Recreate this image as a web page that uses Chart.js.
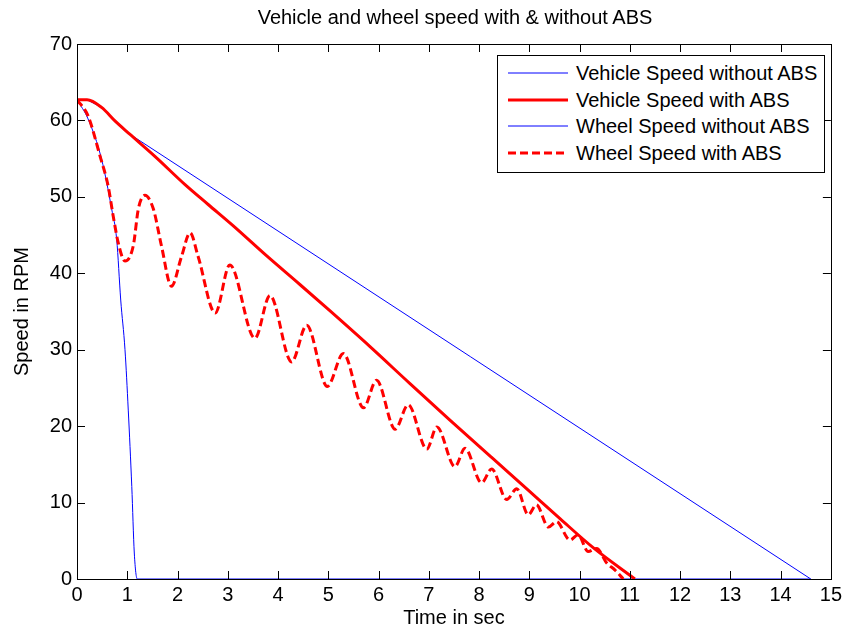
<!DOCTYPE html>
<html lang="en">
<head>
<meta charset="UTF-8">
<title>Vehicle and wheel speed with &amp; without ABS</title>
<script src="https://cdn.jsdelivr.net/npm/chart.js@4.4.1/dist/chart.umd.min.js"></script>
<style>
    html, body { margin: 0; padding: 0; background: #fff; }
    #wrap { position: relative; width: 846px; height: 630px; font-family: 'Liberation Sans', Arial, sans-serif; }
    #title { position: absolute; left: 77px; top: 5px; width: 756px; text-align: center; font-size: 20px; line-height: 24px; color: #000; }
    #legend { position: absolute; left: 497px; top: 55px; width: 326px; height: 116px; border: 1px solid #000; background: #fff; }
    .row { position: absolute; left: 0; height: 26px; width: 326px; font-size: 20px; line-height: 26px; color: #000; }
    .row svg { position: absolute; left: 10px; top: 0; }
    .row span { position: absolute; left: 78px; top: 0; white-space: nowrap; }
</style>
</head>
<body>
<div id="wrap">
    <canvas id="speedChart" width="846" height="630"></canvas>
    <div id="title">Vehicle and wheel speed with &amp; without ABS</div>
    <div id="legend"></div>
</div>

<script>
// values
const seriesLabels = ['Vehicle Speed without ABS', 'Vehicle Speed with ABS', 'Wheel Speed without ABS', 'Wheel Speed with ABS'];

const vehicleNoAbsTime  = [0, 0.2, 0.49, 0.76, 1.05, 14.6];
const vehicleNoAbsSpeed = [62.7, 62.7, 61.7, 59.9, 58.2, 0];

const vehicleAbsTime  = [0, 0.2, 0.49, 0.76, 1.05, 1.55, 2.15, 2.61, 3.11, 3.77, 4.44, 5.03, 5.83, 6.62, 7.42, 8.25, 8.95, 9.61, 10.27, 11.1];
const vehicleAbsSpeed = [62.7, 62.7, 61.7, 59.9, 58.2, 55.3, 51.6, 49.0, 46.2, 42.3, 38.5, 35.1, 30.4, 25.6, 20.8, 15.9, 11.8, 7.9, 4.1, 0];

const wheelNoAbsTime  = [0, 0.22, 0.49, 0.69, 0.79, 0.87, 0.955, 1.02, 1.09, 1.14, 1.2, 14.6];
const wheelNoAbsSpeed = [62.7, 60.2, 54.9, 48.4, 44.4, 36.5, 30.0, 22.1, 12.1, 3.4, 0, 0];

const wheelAbsTime = [0, 0.22, 0.46, 0.62, 0.72, 0.82, 0.955, 1.12, 1.22, 1.35, 1.52, 1.68, 1.88, 2.08, 2.25, 2.41, 2.75,
    3.04, 3.54, 3.84, 4.27, 4.57, 4.98, 5.30, 5.70, 5.96, 6.33, 6.59, 6.96, 7.16, 7.52, 7.72, 8.05, 8.25, 8.55, 8.75,
    8.98, 9.14, 9.38, 9.54, 9.81, 9.97, 10.17, 10.34, 10.54, 10.70, 10.87];
const wheelAbsSpeed = [62.7, 60.6, 55.3, 51.4, 47.5, 44.0, 41.6, 43.6, 48.4, 50.2, 48.4, 43.6, 38.3, 42.2, 45.3, 42.2, 34.8,
    41.1, 31.5, 37.1, 28.4, 33.2, 25.2, 29.5, 22.4, 26.0, 19.6, 22.8, 17.0, 19.9, 14.7, 17.1, 12.6, 14.4, 10.4, 11.8,
    8.4, 9.7, 6.8, 7.5, 5.1, 5.8, 3.6, 4.0, 2.1, 1.2, 0];

const xTicks = [0, 1, 2, 3, 4, 5, 6, 7, 8, 9, 10, 11, 12, 13, 14, 15];
const yTicks = [0, 10, 20, 30, 40, 50, 60, 70];

const FONT = "'Liberation Sans', Arial, sans-serif";

function zip(t, v) {
    return t.map((x, i) => ({ x: x, y: v[i] }));
}

// MATLAB style box with inward ticks on all four sides
const boxTicks = {
    id: 'boxTicks',
    afterDatasetsDraw(chart) {
        const { ctx, chartArea: a, scales: { x, y } } = chart;
        const len = 8;
        ctx.save();
        ctx.strokeStyle = '#000';
        ctx.lineWidth = 1;
        ctx.beginPath();
        xTicks.forEach(v => {
            const px = Math.round(x.getPixelForValue(v)) + 0.5;
            ctx.moveTo(px, a.bottom); ctx.lineTo(px, a.bottom - len);
            ctx.moveTo(px, a.top); ctx.lineTo(px, a.top + len);
        });
        yTicks.forEach(v => {
            const py = Math.round(y.getPixelForValue(v)) + 0.5;
            ctx.moveTo(a.left, py); ctx.lineTo(a.left + len, py);
            ctx.moveTo(a.right, py); ctx.lineTo(a.right - len, py);
        });
        ctx.stroke();
        ctx.strokeRect(Math.round(a.left) + 0.5, Math.round(a.top) + 0.5, Math.round(a.right - a.left), Math.round(a.bottom - a.top));
        ctx.restore();
    }
};

const datasets = [
    { label: seriesLabels[0], data: zip(vehicleNoAbsTime, vehicleNoAbsSpeed), borderColor: '#0000ff', borderWidth: 1, tension: 0, order: 3 },
    { label: seriesLabels[1], data: zip(vehicleAbsTime, vehicleAbsSpeed), borderColor: '#ff0000', borderWidth: 3, cubicInterpolationMode: 'monotone', order: 1 },
    { label: seriesLabels[2], data: zip(wheelNoAbsTime, wheelNoAbsSpeed), borderColor: '#0000ff', borderWidth: 1, cubicInterpolationMode: 'monotone', order: 2 },
    { label: seriesLabels[3], data: zip(wheelAbsTime, wheelAbsSpeed), borderColor: '#ff0000', borderWidth: 3, borderDash: [8, 4], cubicInterpolationMode: 'monotone', order: 0 }
];

const chart = new Chart(document.getElementById('speedChart'), {
    type: 'line',
    data: { datasets: datasets },
    options: {
        responsive: false,
        animation: false,
        devicePixelRatio: 1,
        layout: { padding: { left: 0, right: 13, top: 44, bottom: 0 } },
        elements: { point: { radius: 0 }, line: { fill: false } },
        plugins: {
            legend: { display: false },
            tooltip: { enabled: false },
            title: { display: false }
        },
        scales: {
            x: {
                type: 'linear',
                min: 0,
                max: 15,
                afterBuildTicks: s => { s.ticks = xTicks.map(v => ({ value: v })); },
                afterFit: s => { s.height = 51; },
                grid: { display: false, drawTicks: false },
                border: { display: false },
                ticks: { color: '#000', padding: 4, maxRotation: 0, font: { family: FONT, size: 20 } },
                title: { display: true, text: 'Time in sec', color: '#000', padding: { top: 0, bottom: 0 }, font: { family: FONT, size: 20 } }
            },
            y: {
                type: 'linear',
                min: 0,
                max: 70,
                afterBuildTicks: s => { s.ticks = yTicks.map(v => ({ value: v })); },
                afterFit: s => { s.width = 77; },
                grid: { display: false, drawTicks: false },
                border: { display: false },
                ticks: { color: '#000', padding: 5, font: { family: FONT, size: 20 } },
                title: { display: true, text: 'Speed in RPM', color: '#000', padding: { top: 10, bottom: 0 }, font: { family: FONT, size: 20 } }
            }
        }
    },
    plugins: [boxTicks]
});

// legend box inside the plot, as in the reference
const legendEl = document.getElementById('legend');
const rowTops = [4, 30.7, 57.4, 84.1];
datasets.forEach((ds, i) => {
    const row = document.createElement('div');
    row.className = 'row';
    row.style.top = rowTops[i] + 'px';
    const dash = ds.borderDash ? ` stroke-dasharray="${ds.borderDash.join(' ')}"` : '';
    row.innerHTML = `<svg width="60" height="26"><line x1="0" y1="13" x2="60" y2="13" stroke="${ds.borderColor}" stroke-width="${ds.borderWidth}"${dash}/></svg><span>${ds.label}</span>`;
    legendEl.appendChild(row);
});
</script>
</body>
</html>
